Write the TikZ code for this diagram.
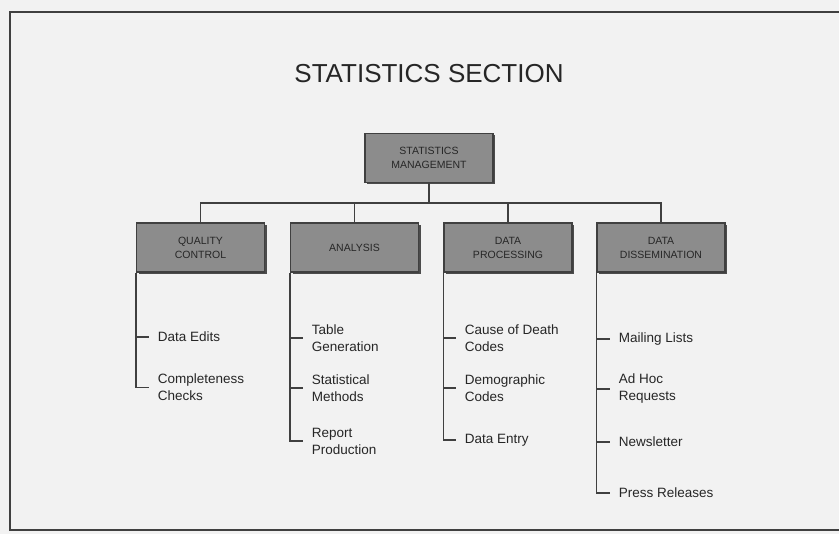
\documentclass[tikz,border=0pt]{standalone}
\usepackage{fontspec}
\setmainfont{Liberation Sans}
\usetikzlibrary{positioning, shadows}

\begin{document}
\begin{tikzpicture}[
  x=1pt, y=-1pt,
  line width=1.6pt,
  unit/.style ={draw=black!75, fill=black!45, minimum width=128pt, minimum height=49pt,
                align=center, inner sep=2pt, text=black!85, line width=1.3pt,
                font=\fontsize{10.5}{14}\selectfont,
                drop shadow={shadow xshift=2pt, shadow yshift=-2pt, fill=black!70, opacity=1}},
  task/.style ={anchor=west, align=left, inner sep=0pt, text=black!85,
                font=\fontsize{13.5}{17}\selectfont},
  link/.style ={draw=black!75},
]
\useasboundingbox (0,0) rectangle (839,534);
\fill[black!5] (0,0) rectangle (839,534);
\draw[black!75, line width=2pt] (839,12) -- (10,12) -- (10,530) -- (839,530);

\node[text=black!85, font=\fontsize{26}{30}\selectfont] (title) at (429,74) {STATISTICS SECTION};

% management and the four units
\node[unit] (mgmt) at (429,158) {STATISTICS\\MANAGEMENT};
\node[unit] (qc) at (200.5,247.5) {QUALITY\\CONTROL};
\node[unit] (an) at (354.5,247.5) {ANALYSIS};
\node[unit] (dp) at (508,247.5) {DATA\\PROCESSING};
\node[unit] (dd) at (661,247.5) {DATA\\DISSEMINATION};

\coordinate (bus) at (429,203);
\foreach \b in {qc, an, dp, dd}
  \draw[link] (mgmt) -- (bus) -| (\b);

% tasks of each unit
\node[task] (qc1) at (157,337) {Data Edits};
\node[task] (qc2) at (157,387.5) {Completeness\\Checks};

\node[task] (an1) at (311,338) {Table\\Generation};
\node[task] (an2) at (311,388) {Statistical\\Methods};
\node[task] (an3) at (311,441) {Report\\Production};

\node[task] (dp1) at (464,338) {Cause of Death\\Codes};
\node[task] (dp2) at (464,388) {Demographic\\Codes};
\node[task] (dp3) at (464,440) {Data Entry};

\node[task] (dd1) at (618,339) {Mailing Lists};
\node[task] (dd2) at (618,389) {Ad Hoc\\Requests};
\node[task] (dd3) at (618,442) {Newsletter};
\node[task] (dd4) at (618,493) {Press Releases};

\foreach \a/\b in {qc/qc1, qc/qc2, an/an1, an/an2, an/an3, dp/dp1, dp/dp2, dp/dp3,
                   dd/dd1, dd/dd2, dd/dd3, dd/dd4}
  \draw[link] (\a.south west) |- ([xshift=-8pt]\b.west);
\end{tikzpicture}
\end{document}
